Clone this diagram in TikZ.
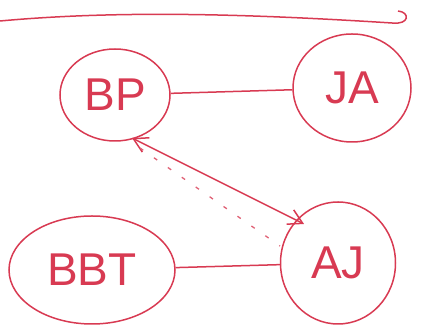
\documentclass[tikz,border=0pt]{standalone}
\usepackage{fontspec}
\setmainfont{Liberation Sans}
\usetikzlibrary{shapes.geometric,arrows.meta}
\definecolor{pen}{RGB}{216,58,82}
\begin{document}
\begin{tikzpicture}[x=1pt,y=1pt,
  bubble/.style={ellipse,draw=pen,line width=1.5pt,inner sep=0pt,
    text=pen,font=\fontsize{46}{46}\selectfont},
  link/.style={draw=pen,line width=1.5pt},
  dots/.style={draw=pen!80,line width=1.3pt,dash pattern=on 4pt off 13pt}]
\useasboundingbox (0,0) rectangle (423,328);
% heading rule with a curl at its right end
\draw[link] (0,307) .. controls (120,318) and (250,314) .. (392,305)
  .. controls (410,303) and (410,316) .. (398,317);
% people
\node[bubble,minimum width=110pt,minimum height=92pt] (bp) at (115,233) {BP};
\node[bubble,minimum width=118pt,minimum height=108pt] (ja) at (352,240) {JA};
\node[bubble,minimum width=166pt,minimum height=108pt] (bbt) at (92,58) {BBT};
\node[bubble,minimum width=115pt,minimum height=122pt] (aj) at (338,65) {AJ};
% relations
\draw[link] (bp) -- (ja);
\draw[link] (bbt) -- (aj);
\coordinate (p1) at (132,190);
\coordinate (p2) at (304,104);
\coordinate (d1) at (140,180);
\coordinate (d2) at (280,82);
\draw[link,{Straight Barb[length=14pt,width=16pt]}-{Straight Barb[length=14pt,width=16pt]}]
  (p1) -- (p2);
\draw[dots] (d1) -- (d2);
\end{tikzpicture}
\end{document}
